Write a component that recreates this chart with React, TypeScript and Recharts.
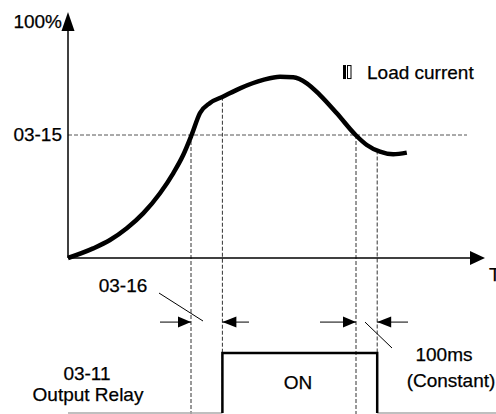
import React from "react";
import {
  ComposedChart,
  Line,
  ReferenceDot,
  ReferenceLine,
  XAxis,
  YAxis,
} from "recharts";

// load current curve, time (t) vs percent (v)
const loadTime = [0, 6.3, 10.5, 14.7, 18.8, 23, 26.3, 28.8, 30.9, 33, 35.5, 38.7, 43, 48.8, 53, 56.3, 59.7, 63, 67.2, 71.9, 74.7, 78, 81.3, 84.7];
const loadValue = [0, 4, 7.5, 12.4, 18.6, 27, 35.3, 42.9, 51.25, 60.4, 64.6, 67.2, 70.7, 74.2, 75.5, 75.3, 72.8, 67.9, 60.3, 51.25, 47.1, 44.3, 43.2, 43.9];

const threshold = 51.25; // 03-15
const crossUp = 30.75;
const relayOn = 38.6;
const crossDown = 72;
const relayOff = 77.3;
const curveAtOn = 67.2;
const curveAtOff = 44.8;

const relayLow = -64.6;
const relayHigh = -39.6;
const dimLevel = -26.7;

const axisLabels = ["100%", "03-15"];
const legendLabel = "Load current";
const relayLabels = ["03-11", "Output Relay", "ON"];
const delayLabels = ["03-16", "100ms", "(Constant)"];
const timeLabel = "T";

const loadData = loadTime.map((t, i) => ({ t, v: loadValue[i] }));
const pulseData = [
  { t: relayOn, v: relayLow },
  { t: relayOn, v: relayHigh },
  { t: relayOff, v: relayHigh },
  { t: relayOff, v: relayLow },
];

const FONT = "'Liberation Sans', Arial, sans-serif";

const textShape =
  (text: string, anchor: "start" | "middle" | "end" = "start") =>
  (p: any) =>
    (
      <text
        x={p.cx}
        y={p.cy}
        textAnchor={anchor}
        fontFamily={FONT}
        fontSize={19}
        fill="#000"
        stroke="#000"
        strokeWidth={0.25}
      >
        {text}
      </text>
    );

const arrowShape =
  (dir: "up" | "left" | "right", len: number, half: number) => (p: any) => {
    const { cx, cy } = p;
    let pts = "";
    if (dir === "up") pts = `${cx},${cy} ${cx - half},${cy + len} ${cx + half},${cy + len}`;
    if (dir === "right") pts = `${cx},${cy} ${cx - len},${cy - half} ${cx - len},${cy + half}`;
    if (dir === "left") pts = `${cx},${cy} ${cx + len},${cy - half} ${cx + len},${cy + half}`;
    return <polygon points={pts} fill="#000" />;
  };

const legendGlyph = (p: any) => (
  <g>
    <rect x={p.cx} y={p.cy} width={3} height={14} fill="#000" />
    <rect x={p.cx + 4.5} y={p.cy + 0.5} width={3.5} height={13} fill="none" stroke="#000" strokeWidth={1} />
  </g>
);

const dash = { stroke: "#333", strokeWidth: 1, strokeDasharray: "4 2" };

export default function App() {
  return (
    <div style={{ position: "absolute", left: 0, top: 0, background: "#fff" }}>
      <ComposedChart
        width={496}
        height={414}
        margin={{ top: 0, right: 0, bottom: 0, left: 0 }}
      >
        <XAxis dataKey="t" type="number" domain={[-17, 107]} allowDataOverflow hide />
        <YAxis type="number" domain={[-65, 107.5]} allowDataOverflow hide />

        {/* threshold and dashed timing guides */}
        <ReferenceLine segment={[{ x: 0, y: threshold }, { x: 99.75, y: threshold }]} {...dash} stroke="#555" />
        <ReferenceLine segment={[{ x: crossUp, y: threshold }, { x: crossUp, y: -65 }]} {...dash} />
        <ReferenceLine segment={[{ x: relayOn, y: curveAtOn }, { x: relayOn, y: -65 }]} {...dash} />
        <ReferenceLine segment={[{ x: crossDown, y: threshold }, { x: crossDown, y: -65 }]} {...dash} />
        <ReferenceLine segment={[{ x: relayOff, y: curveAtOff }, { x: relayOff, y: -65 }]} {...dash} />

        {/* axes */}
        <ReferenceLine segment={[{ x: 0, y: 0 }, { x: 0, y: 100 }]} stroke="#000" strokeWidth={1.5} />
        <ReferenceLine segment={[{ x: 0, y: 0 }, { x: 102, y: 0 }]} stroke="#000" strokeWidth={1.5} />
        <ReferenceDot x={0} y={102.5} r={0} shape={arrowShape("up", 19, 6.5)} />
        <ReferenceDot x={104.25} y={0} r={0} shape={arrowShape("right", 15, 7)} />

        {/* relay baseline */}
        <ReferenceLine segment={[{ x: 0, y: relayLow }, { x: relayOn, y: relayLow }]} stroke="#aaa" strokeWidth={1.5} />
        <ReferenceLine segment={[{ x: relayOff, y: relayLow }, { x: 107, y: relayLow }]} stroke="#aaa" strokeWidth={1.5} />

        {/* dimension arrows */}
        <ReferenceLine segment={[{ x: 23, y: dimLevel }, { x: crossUp, y: dimLevel }]} stroke="#000" strokeWidth={1} />
        <ReferenceLine segment={[{ x: relayOn, y: dimLevel }, { x: 45.25, y: dimLevel }]} stroke="#000" strokeWidth={1} />
        <ReferenceLine segment={[{ x: 63, y: dimLevel }, { x: crossDown, y: dimLevel }]} stroke="#000" strokeWidth={1} />
        <ReferenceLine segment={[{ x: relayOff, y: dimLevel }, { x: 85, y: dimLevel }]} stroke="#000" strokeWidth={1} />
        <ReferenceDot x={crossUp} y={dimLevel} r={0} shape={arrowShape("right", 13, 5.5)} />
        <ReferenceDot x={relayOn} y={dimLevel} r={0} shape={arrowShape("left", 14, 5.5)} />
        <ReferenceDot x={crossDown} y={dimLevel} r={0} shape={arrowShape("right", 13, 5.5)} />
        <ReferenceDot x={relayOff} y={dimLevel} r={0} shape={arrowShape("left", 14, 5.5)} />
        <ReferenceLine segment={[{ x: 22.75, y: -14.6 }, { x: 33.75, y: -26.25 }]} stroke="#000" strokeWidth={1} />
        <ReferenceLine segment={[{ x: 74.25, y: -26.7 }, { x: 81, y: -37.5 }]} stroke="#000" strokeWidth={1} />

        <Line
          data={loadData}
          dataKey="v"
          type="monotone"
          stroke="#000"
          strokeWidth={4.5}
          dot={false}
          activeDot={false}
          isAnimationActive={false}
        />
        <Line
          data={pulseData}
          dataKey="v"
          type="linear"
          stroke="#000"
          strokeWidth={2.5}
          strokeLinejoin="miter"
          dot={false}
          activeDot={false}
          isAnimationActive={false}
        />

        {/* texts */}
        <ReferenceDot x={-1.5} y={95.8} r={0} shape={textShape(axisLabels[0], "end")} />
        <ReferenceDot x={-1.5} y={48.75} r={0} shape={textShape(axisLabels[1], "end")} />
        <ReferenceDot x={68.75} y={80.4} r={0} shape={legendGlyph} />
        <ReferenceDot x={74.75} y={74.6} r={0} shape={textShape(legendLabel)} />
        <ReferenceDot x={105.25} y={-9.6} r={0} shape={textShape(timeLabel)} />
        <ReferenceDot x={13.75} y={-14.2} r={0} shape={textShape(delayLabels[0], "middle")} />
        <ReferenceDot x={4.75} y={-50.8} r={0} shape={textShape(relayLabels[0], "middle")} />
        <ReferenceDot x={5} y={-59.6} r={0} shape={textShape(relayLabels[1], "middle")} />
        <ReferenceDot x={57.5} y={-54.6} r={0} shape={textShape(relayLabels[2], "middle")} />
        <ReferenceDot x={94} y={-42.9} r={0} shape={textShape(delayLabels[1], "middle")} />
        <ReferenceDot x={95.75} y={-53.75} r={0} shape={textShape(delayLabels[2], "middle")} />
      </ComposedChart>
    </div>
  );
}
